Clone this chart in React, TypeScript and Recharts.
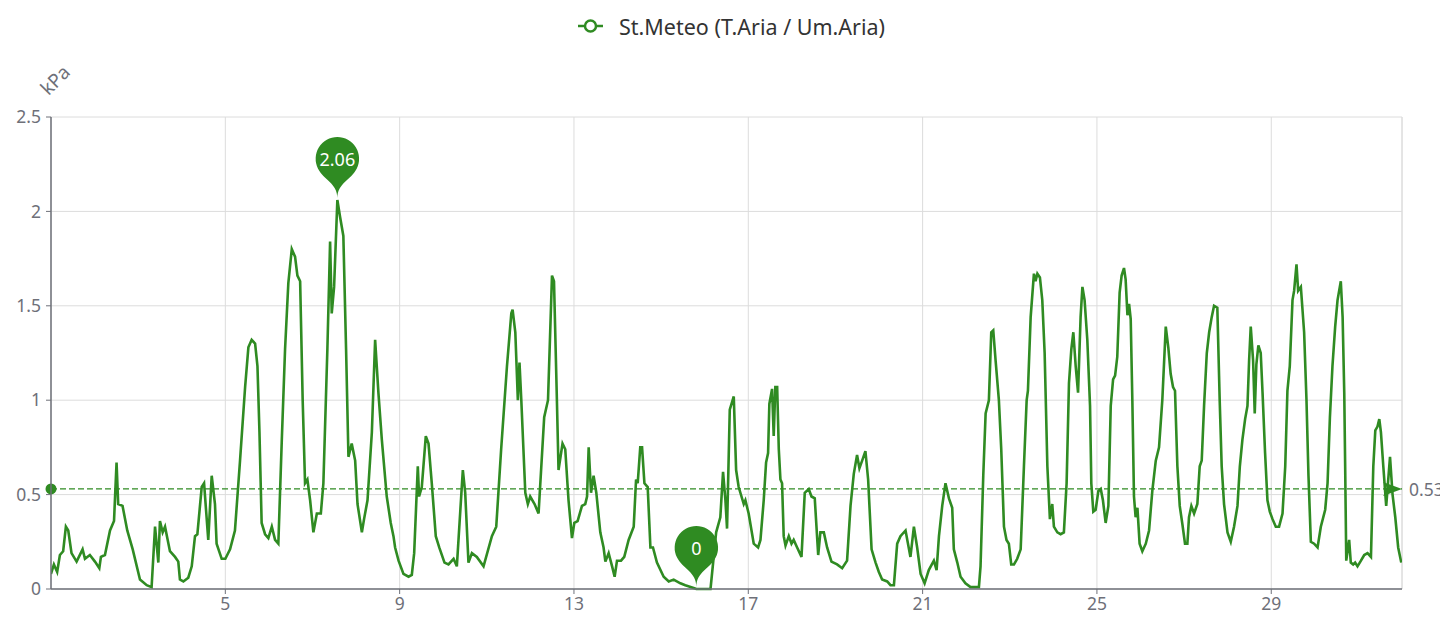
import React from 'react';
import { LineChart, Line, XAxis, YAxis, CartesianGrid, ReferenceLine, ReferenceDot } from 'recharts';

const SERIES_NAME = 'St.Meteo (T.Aria / Um.Aria)';
const UNIT = 'kPa';
const DAY_TICKS = [5, 9, 13, 17, 21, 25, 29];
const Y_TICKS = [0, 0.5, 1, 1.5, 2, 2.5];
const MEAN_VALUE = 0.53;
const MONTH_HOURS = 744;

// [hour of month, kPa]
const days01to05: [number, number][] = [
  [0, 0.08], [1.6, 0.13], [3.4, 0.09], [4.9, 0.18], [6.7, 0.2], [8.2, 0.33], [9.5, 0.31], [11.3, 0.19],
  [14.1, 0.145], [17.4, 0.21], [18.7, 0.16], [21.4, 0.18], [24.2, 0.145], [26.6, 0.11], [27.5, 0.17],
  [29.7, 0.18], [32.5, 0.31], [34.7, 0.36], [36.1, 0.67], [37.0, 0.45], [39.4, 0.44], [42.0, 0.31],
  [45.0, 0.21], [49.0, 0.05], [52.7, 0.02], [55.4, 0.01], [57.3, 0.33], [59.1, 0.14], [60.0, 0.36],
  [61.5, 0.3], [62.8, 0.33], [65.5, 0.2], [68.3, 0.17], [70.1, 0.145], [71.0, 0.05], [72.9, 0.04],
  [75.6, 0.06], [77.5, 0.12], [79.3, 0.28], [80.6, 0.29], [83.0, 0.54], [84.3, 0.56], [86.6, 0.26],
  [88.5, 0.6], [90.3, 0.45], [91.2, 0.24], [94.0, 0.16], [96.0, 0.16],
];

const days05to09: [number, number][] = [
  [98.6, 0.21], [101.3, 0.31], [104.1, 0.68], [106.9, 1.07], [108.7, 1.28], [110.5, 1.32], [112.4, 1.3],
  [113.7, 1.18], [114.8, 0.83], [116.0, 0.35], [117.9, 0.29], [119.7, 0.27], [121.6, 0.33], [123.4, 0.26],
  [125.2, 0.24], [127.1, 0.79], [128.9, 1.27], [130.7, 1.62], [132.6, 1.8], [134.4, 1.76], [135.7, 1.66],
  [137.2, 1.63], [138.6, 1.0], [139.9, 0.56], [141.2, 0.58], [142.7, 0.47], [144.5, 0.3], [146.4, 0.4],
  [148.6, 0.4], [150.0, 0.56], [152.2, 1.27], [153.7, 1.84], [154.6, 1.46], [155.9, 1.6], [157.7, 2.06],
  [159.2, 1.97], [161.0, 1.87], [162.5, 1.27], [163.8, 0.7], [165.6, 0.77], [167.5, 0.68], [168.8, 0.45],
  [171.2, 0.3], [172.4, 0.37], [174.3, 0.47], [176.7, 0.83], [178.5, 1.32], [180.3, 1.04], [182.2, 0.79],
  [184.9, 0.49], [187.1, 0.35], [188.6, 0.28], [189.5, 0.22],
];

const days09to13: [number, number][] = [
  [191.4, 0.15], [194.1, 0.08], [196.9, 0.065], [198.7, 0.075], [200.0, 0.19], [202.0, 0.65], [202.7, 0.49],
  [204.2, 0.54], [206.4, 0.81], [207.9, 0.77], [209.7, 0.56], [211.9, 0.28], [213.8, 0.22], [216.7, 0.14],
  [218.9, 0.13], [221.7, 0.16], [223.5, 0.12], [226.8, 0.63], [228.1, 0.51], [229.9, 0.14], [231.8, 0.19],
  [234.5, 0.17], [238.2, 0.12], [242.8, 0.28], [245.2, 0.33], [247.9, 0.74], [251.1, 1.18], [253.5, 1.46],
  [254.2, 1.48], [255.7, 1.36], [257.1, 1.0], [258.0, 1.2], [259.0, 1.0], [261.2, 0.51], [262.6, 0.45],
  [263.9, 0.49], [266.3, 0.45], [268.5, 0.4], [271.6, 0.91], [273.7, 1.0], [275.9, 1.66], [277.0, 1.63],
  [278.6, 1.0], [279.5, 0.63], [281.7, 0.77], [283.2, 0.74], [285.0, 0.47],
];

const days13to17: [number, number][] = [
  [286.9, 0.27], [288.2, 0.35], [290.0, 0.36], [292.4, 0.44], [294.2, 0.45], [295.2, 0.49], [296.1, 0.75],
  [297.4, 0.51], [298.8, 0.6], [300.3, 0.51], [302.5, 0.3], [304.3, 0.22], [305.3, 0.145], [307.1, 0.19],
  [309.0, 0.12], [310.4, 0.065], [311.7, 0.15], [313.9, 0.15], [315.7, 0.17], [318.1, 0.26], [320.9, 0.33],
  [322.2, 0.58], [323.1, 0.56], [324.5, 0.75], [325.5, 0.75], [326.8, 0.56], [328.6, 0.54], [330.1, 0.22],
  [331.5, 0.22], [333.7, 0.14], [337.4, 0.065], [340.2, 0.04], [342.9, 0.05], [346.6, 0.03], [349.3, 0.02],
  [353.9, 0.005], [355.4, 0], [359.5, 0], [363.2, 0], [366.3, 0.3], [368.6, 0.38], [370.1, 0.62],
  [371.4, 0.47], [372.3, 0.32], [373.8, 0.95], [376.0, 1.02], [377.3, 0.63], [378.7, 0.54], [381.5, 0.45],
];

const days17to21: [number, number][] = [
  [382.4, 0.47], [384.2, 0.4], [387.0, 0.24], [389.4, 0.22], [390.7, 0.26], [392.5, 0.47], [393.8, 0.67],
  [394.9, 0.72], [395.6, 0.98], [397.1, 1.06], [398.0, 0.81], [398.9, 1.07], [399.9, 1.07], [400.8, 0.74],
  [401.7, 0.58], [402.6, 0.56], [403.5, 0.28], [404.5, 0.23], [406.3, 0.28], [407.8, 0.24], [409.0, 0.26],
  [410.9, 0.22], [413.3, 0.17], [415.1, 0.51], [417.3, 0.53], [418.8, 0.49], [420.6, 0.48], [422.5, 0.18],
  [423.7, 0.3], [425.6, 0.3], [427.4, 0.22], [429.8, 0.145], [432.9, 0.13], [435.7, 0.11], [438.4, 0.15],
  [440.3, 0.44], [442.1, 0.61], [443.9, 0.71], [445.2, 0.64], [446.7, 0.68], [448.5, 0.73], [450.0, 0.58],
  [451.9, 0.21], [454.1, 0.14], [455.9, 0.09], [457.7, 0.05], [460.5, 0.04], [462.3, 0.02], [464.2, 0.02],
  [466.0, 0.24], [467.8, 0.28], [470.6, 0.31], [473.3, 0.17], [475.2, 0.33], [477.0, 0.22], [478.9, 0.08],
];

const days21to25: [number, number][] = [
  [481.1, 0.03], [483.4, 0.1], [486.2, 0.15], [487.7, 0.1], [489.0, 0.28], [490.8, 0.44], [492.6, 0.56],
  [494.5, 0.48], [496.3, 0.43], [497.2, 0.21], [499.1, 0.14], [500.9, 0.065], [503.6, 0.03], [506.4, 0.01],
  [511.0, 0.01], [511.9, 0.12], [513.4, 0.6], [514.7, 0.93], [516.5, 1.0], [517.8, 1.36], [518.9, 1.37],
  [520.2, 1.21], [522.0, 1.0], [523.3, 0.74], [524.8, 0.33], [526.2, 0.26], [527.5, 0.24], [528.8, 0.13],
  [530.3, 0.13], [532.1, 0.16], [534.0, 0.21], [535.8, 0.65], [537.3, 1.0], [538.0, 1.05], [539.5, 1.44],
  [541.3, 1.67], [542.2, 1.63], [543.2, 1.67], [544.6, 1.65], [545.9, 1.53], [547.2, 1.25], [548.7, 0.65],
  [550.1, 0.37], [551.4, 0.45], [552.3, 0.33], [554.2, 0.3], [556.0, 0.29], [557.8, 0.3], [559.3, 0.56],
  [560.6, 1.09], [561.9, 1.27], [563.0, 1.36], [564.3, 1.18], [565.6, 1.04], [567.0, 1.44], [568.0, 1.6],
  [569.2, 1.53], [570.7, 1.32], [572.2, 0.97], [572.9, 0.56], [574.0, 0.41], [575.3, 0.42],
];

const days25to29: [number, number][] = [
  [576.8, 0.52], [578.1, 0.53], [579.3, 0.47], [580.8, 0.35], [582.3, 0.44], [583.6, 0.97], [584.9, 1.11],
  [586.0, 1.13], [587.2, 1.23], [588.5, 1.57], [589.6, 1.66], [590.9, 1.7], [591.8, 1.64], [592.8, 1.45],
  [593.7, 1.51], [594.6, 1.43], [595.5, 1.0], [596.4, 0.49], [597.3, 0.38], [598.3, 0.43], [599.5, 0.24],
  [601.0, 0.2], [602.9, 0.24], [604.7, 0.31], [606.5, 0.52], [608.4, 0.68], [610.2, 0.75], [612.0, 1.0],
  [613.9, 1.39], [615.3, 1.28], [616.6, 1.14], [617.9, 1.07], [619.0, 1.05], [620.3, 0.65], [621.6, 0.44],
  [623.1, 0.34], [624.5, 0.24], [625.8, 0.24], [626.7, 0.38], [628.0, 0.44], [629.5, 0.4], [631.3, 0.45],
  [632.6, 0.65], [633.7, 0.68], [635.0, 0.97], [636.5, 1.25], [637.8, 1.36], [639.2, 1.44], [640.5, 1.5],
  [642.3, 1.49], [643.6, 1.0], [644.7, 0.65], [646.0, 0.45], [647.9, 0.3], [649.7, 0.25], [651.5, 0.33],
  [653.4, 0.44], [654.7, 0.65], [656.1, 0.79], [657.6, 0.9], [658.9, 0.97], [659.8, 1.21], [660.7, 1.39],
  [662.0, 1.21], [662.9, 0.93], [663.8, 1.19], [664.9, 1.29], [666.2, 1.25], [667.2, 1.04], [668.6, 0.72],
  [669.9, 0.47], [671.2, 0.41], [672.7, 0.37], [674.5, 0.33], [676.3, 0.33],
];

const days29to31: [number, number][] = [
  [678.2, 0.4], [679.7, 0.65], [680.9, 1.05], [682.2, 1.18], [683.7, 1.53], [684.6, 1.58], [685.9, 1.72],
  [686.8, 1.58], [688.3, 1.6], [690.1, 1.36], [691.4, 1.0], [692.5, 0.6], [693.8, 0.25], [695.6, 0.24],
  [697.5, 0.22], [699.3, 0.33], [701.7, 0.42], [703.0, 0.56], [704.3, 0.91], [705.7, 1.18], [707.2, 1.39],
  [708.5, 1.53], [710.3, 1.63], [711.3, 1.44], [712.2, 1.04], [712.7, 0.65], [713.3, 0.15], [714.0, 0.2],
  [714.9, 0.26], [715.8, 0.14], [717.1, 0.13], [718.2, 0.14], [719.5, 0.12], [721.4, 0.15], [723.2, 0.18],
  [725.0, 0.19], [726.9, 0.17], [728.2, 0.65], [729.3, 0.84], [730.5, 0.86], [731.5, 0.9], [732.4, 0.83],
  [733.7, 0.65], [735.3, 0.44], [737.4, 0.7], [738.8, 0.5], [740.3, 0.38], [741.9, 0.22], [743.6, 0.14],
];

const GREEN = '#2f8b22';
const AXIS = '#6e7079';
const GRID = '#dcdcdc';
const FONT = '"Noto Sans", "Open Sans", Arial, sans-serif';

const data = [
  ...days01to05, ...days05to09, ...days09to13, ...days13to17,
  ...days17to21, ...days21to25, ...days25to29, ...days29to31,
].map(([h, v]) => ({ h, v }));

const maxPoint = data.reduce((a, b) => (b.v > a.v ? b : a), data[0]);
const minPoint = data.reduce((a, b) => (b.v < a.v ? b : a), data[0]);
const hourTicks = DAY_TICKS.map((d) => (d - 1) * 24);

function makePin(label: string) {
  return (props: any) => {
    const cx = props.cx;
    const tipY = props.cy - 2;
    const r = 21.7;
    const h = 70.6;
    const dy = (r * r) / (h - r);
    const cy = tipY - h + r + dy;
    const angle = Math.asin(dy / r);
    const dx = Math.cos(angle) * r;
    const tanX = Math.sin(angle);
    const tanY = Math.cos(angle);
    const cp = r * 0.6;
    const cp2 = r * 0.7;
    const d = [
      `M ${cx - dx} ${cy + dy}`,
      `A ${r} ${r} 0 1 1 ${cx + dx} ${cy + dy}`,
      `C ${cx + dx - tanX * cp} ${cy + dy + tanY * cp} ${cx} ${tipY - cp2} ${cx} ${tipY}`,
      `C ${cx} ${tipY - cp2} ${cx - dx + tanX * cp} ${cy + dy + tanY * cp} ${cx - dx} ${cy + dy}`,
      'Z',
    ].join(' ');
    return (
      <g>
        <path d={d} fill={GREEN} />
        <text x={cx} y={cy} fill="#fff" fontSize={18} fontFamily={FONT} textAnchor="middle" dominantBaseline="central">
          {label}
        </text>
      </g>
    );
  };
}

const MeanDecor = (props: any) => {
  const vb = props.viewBox || {};
  const x1 = vb.x;
  const x2 = vb.x + vb.width;
  const y = vb.y;
  return (
    <g>
      <circle cx={x1} cy={y} r={5.5} fill={GREEN} />
      <polygon points={`${x2},${y} ${x2 - 19},${y - 7} ${x2 - 14},${y} ${x2 - 19},${y + 7}`} fill={GREEN} />
      <text x={x2 + 7} y={y} fill={AXIS} fontSize={17.5} fontFamily={FONT} dominantBaseline="central">
        {MEAN_VALUE}
      </text>
    </g>
  );
};

export default function App() {
  return (
    <div style={{ position: 'relative', width: 1440, height: 609, fontFamily: FONT }}>
      <div
        style={{
          position: 'absolute', left: 570, top: 5, height: 26, display: 'flex', alignItems: 'center',
          whiteSpace: 'nowrap', color: '#333', fontSize: 21.5, fontFamily: FONT,
        }}
      >
        <svg width={25} height={16} style={{ display: 'block' }}>
          <line x1={0} y1={8} x2={25} y2={8} stroke={GREEN} strokeWidth={2.5} />
          <circle cx={12.5} cy={8} r={5.5} fill="#fff" stroke={GREEN} strokeWidth={2.5} />
        </svg>
        <span style={{ marginLeft: 16 }}>{SERIES_NAME}</span>
      </div>
      <div
        style={{
          position: 'absolute', left: 47, top: 72, transform: 'translate(-50%, -50%) rotate(-45deg)',
          color: AXIS, fontSize: 19, fontFamily: FONT, whiteSpace: 'nowrap',
        }}
      >
        {UNIT}
      </div>
      <LineChart
        width={1440}
        height={609}
        data={data}
        margin={{ top: 109, right: 46, bottom: 0, left: 0 }}
        style={{ overflow: 'visible' }}
      >
        <CartesianGrid stroke={GRID} strokeWidth={1} />
        <XAxis
          type="number"
          dataKey="h"
          domain={[0, MONTH_HOURS]}
          ticks={hourTicks}
          tickFormatter={(h: number) => String(h / 24 + 1)}
          height={28}
          tickSize={5}
          tickMargin={4}
          axisLine={{ stroke: AXIS, strokeWidth: 1.5 }}
          tickLine={{ stroke: AXIS }}
          tick={{ fill: AXIS, fontSize: 17.5, fontFamily: FONT }}
          allowDataOverflow
        />
        <YAxis
          type="number"
          domain={[0, 2.5]}
          ticks={Y_TICKS}
          width={43}
          tickSize={5}
          tickMargin={5}
          axisLine={{ stroke: AXIS, strokeWidth: 1.5 }}
          tickLine={{ stroke: AXIS }}
          tick={{ fill: AXIS, fontSize: 17.5, fontFamily: FONT }}
        />
        <ReferenceLine x={MONTH_HOURS} stroke={GRID} strokeWidth={1} />
        <Line
          type="linear"
          dataKey="v"
          stroke={GREEN}
          strokeWidth={2.6}
          dot={false}
          activeDot={false}
          isAnimationActive={false}
        />
        <ReferenceLine
          y={MEAN_VALUE}
          stroke={GREEN}
          strokeWidth={1.3}
          strokeDasharray="6 3"
          label={(p: any) => <MeanDecor {...p} />}
        />
        <ReferenceDot x={maxPoint.h} y={maxPoint.v} r={1} shape={makePin(String(maxPoint.v))} ifOverflow="visible" />
        <ReferenceDot x={minPoint.h} y={minPoint.v} r={1} shape={makePin(String(minPoint.v))} ifOverflow="visible" />
      </LineChart>
    </div>
  );
}
